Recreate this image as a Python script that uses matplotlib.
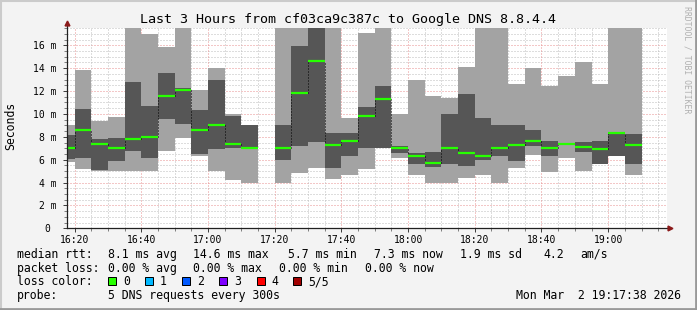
import numpy as np
import matplotlib
matplotlib.use("Agg")
import matplotlib.pyplot as plt
from matplotlib.patches import Rectangle
from matplotlib.lines import Line2D

# step start times (5 min steps), rtt in ms for the 5 sorted requests
steps = ["16:15", "16:20", "16:25", "16:30", "16:35", "16:40", "16:45", "16:50", "16:55",
         "17:00", "17:05", "17:10", "17:15", "17:20", "17:25", "17:30", "17:35", "17:40",
         "17:45", "17:50", "17:55", "18:00", "18:05", "18:10", "18:15", "18:20", "18:25",
         "18:30", "18:35", "18:40", "18:45", "18:50", "18:55", "19:00", "19:05"]
# 18.0 = above the top of the graph (clipped)
ping_min = [5.82, 5.18, 5.00, 5.00, 5.00, 5.00, 6.78, 7.92, 6.34, 5.00, 4.21, 3.98, np.nan,
            3.98, 4.85, 5.23, 4.33, 4.65, 5.18, 7.00, 6.17, 4.65, 3.98, 3.98, 4.41, 4.65,
            3.98, 5.29, 6.43, 4.94, 6.17, 5.00, 5.64, 6.34, 4.65]
ping_lo = [6.10, 6.11, 5.08, 5.91, 6.75, 6.17, 9.56, 9.12, 6.49, 6.96, 7.05, 6.98, np.nan,
           6.00, 7.22, 7.57, 5.29, 6.34, 7.05, 7.02, 6.60, 5.61, 5.38, 5.61, 5.47, 6.00,
           6.34, 5.91, 7.22, 6.34, 7.30, 6.70, 5.64, 6.34, 5.64]
ping_med = [7.05, 8.60, 7.40, 7.05, 7.81, 7.98, 11.60, 12.05, 8.60, 9.00, 7.40, 7.05, np.nan,
            7.05, 11.87, 14.60, 7.31, 7.66, 9.85, 11.26, 7.05, 6.34, 5.73, 7.05, 6.60, 6.34,
            7.05, 7.31, 7.66, 7.05, 7.40, 7.13, 6.96, 8.33, 7.31]
ping_hi = [8.15, 10.44, 7.81, 7.92, 12.80, 10.70, 13.60, 12.28, 10.35, 12.98, 9.85, 9.03, np.nan,
           9.03, 15.90, 18.0, 8.36, 8.36, 10.61, 12.46, 7.22, 6.60, 6.70, 10.00, 11.78, 9.65,
           9.03, 9.03, 8.57, 7.63, 7.50, 7.57, 7.63, 8.45, 8.25]
ping_max = [9.03, 13.80, 9.39, 9.74, 18.0, 17.00, 15.88, 18.0, 12.10, 13.98, 10.00, 9.05, np.nan,
            18.0, 18.0, 18.0, 18.0, 9.68, 17.10, 18.0, 10.00, 12.98, 11.58, 11.43, 14.12, 18.0,
            18.0, 12.63, 14.03, 12.46, 13.33, 14.50, 12.63, 18.0, 18.0]

xtick_labels = ["16:20", "16:40", "17:00", "17:20", "17:40", "18:00", "18:20", "18:40", "19:00"]
ytick_vals = [0, 2, 4, 6, 8, 10, 12, 14, 16]
ytick_labels = ["0 ", "2 m", "4 m", "6 m", "8 m", "10 m", "12 m", "14 m", "16 m"]

loss_labels = ["0", "1", "2", "3", "4", "5/5"]
loss_colors = ["#26ff00", "#00b8ff", "#0059ff", "#7e00ff", "#ff0000", "#a10000"]

W, H = 697, 310
MONO = "DejaVu Sans Mono"
DOTS = (0, (1, 2))


def to_min(s):
    h, m = s.split(":")
    return (int(h) - 16) * 60 + int(m)


def fx(x):
    return x / W


def fy(y):
    return 1 - y / H


x = np.array([to_min(s) for s in steps], dtype=float)
pmin = np.array(ping_min)
plo = np.array(ping_lo)
pmed = np.array(ping_med)
phi = np.array(ping_hi)
pmax = np.array(ping_max)
ok = ~np.isnan(pmed)

fig = plt.figure(figsize=(W / 100, H / 100), dpi=100)
fig.patch.set_facecolor("#f3f3f3")

ax = fig.add_axes([fx(66.7), fy(228.3), fx(667) - fx(66.7), fy(28) - fy(228.3)])
ax.set_facecolor("white")
ax.set_xlim(17 + 38 / 60, 197 + 38 / 60)
ax.set_ylim(0, (228.3 - 28) / 11.44)

# grid behind the smoke
grid_minor = "#bdbdbd"
grid_major = "#e89090"
for v in np.arange(0.5, 17.6, 0.5):
    major = abs(v / 2 - round(v / 2)) < 1e-6
    ax.axhline(v, color=grid_major if major else grid_minor, lw=0.72,
               ls=DOTS, zorder=0.5)
for t in range(20, 197, 5):
    ax.axvline(t, color=grid_major if t % 20 == 0 else grid_minor, lw=0.72,
               ls=DOTS, zorder=0.5)

# smoke
ax.bar(x[ok], (pmax - pmin)[ok], bottom=pmin[ok], width=5, align="edge",
       color="#a3a3a3", linewidth=0, zorder=1)
ax.bar(x[ok], (phi - plo)[ok], bottom=plo[ok], width=5, align="edge",
       color="#565656", linewidth=0, zorder=1.1)

# median connectors and median line
for i in range(1, len(x)):
    if ok[i] and ok[i - 1]:
        ax.vlines(x[i], min(pmed[i], pmed[i - 1]), max(pmed[i], pmed[i - 1]),
                  color="black", lw=0.72, linestyles=DOTS, zorder=2)
ax.hlines(pmed[ok], x[ok], x[ok] + 5, color=loss_colors[0], lw=1.6, zorder=3)

# axes and ticks
for s in ax.spines.values():
    s.set_visible(False)
ax.set_xticks([to_min(s) for s in xtick_labels])
ax.set_xticklabels(xtick_labels, fontsize=7, family=MONO)
ax.set_xticks(np.arange(20, 197, 5), minor=True)
ax.set_yticks(ytick_vals)
ax.set_yticklabels(ytick_labels, fontsize=7, family=MONO)
ax.set_yticks(np.arange(0, 17.6, 0.5), minor=True)
ax.tick_params(which="major", length=3, width=0.72, color="#404040")
ax.tick_params(axis="y", which="major", pad=4)
ax.tick_params(axis="x", which="major", pad=1.5)
ax.tick_params(which="minor", length=2, width=0.72, color="#808080")

ax.plot([0, 0], [0, 1 + 5 / 200], transform=ax.transAxes, color="#202020",
        lw=0.9, clip_on=False, zorder=5)
ax.plot([0, 1 + 3 / 600], [0, 0], transform=ax.transAxes, color="#202020",
        lw=0.9, clip_on=False, zorder=5)
ax.plot([0], [1 + 5 / 200], marker="^", ms=3.5, color="#8b1a1a",
        transform=ax.transAxes, clip_on=False, zorder=6)
ax.plot([1 + 3 / 600], [0], marker=">", ms=3.5, color="#8b1a1a",
        transform=ax.transAxes, clip_on=False, zorder=6)

# title, labels
fig.text(0.5, fy(19), "Last 3 Hours from cf03ca9c387c to Google DNS 8.8.4.4",
         ha="center", va="center", fontsize=9.6, family=MONO)
fig.text(fx(10.5), fy(126), "Seconds", rotation=90, ha="center", va="center",
         fontsize=8.3, family=MONO)
fig.text(fx(686.7), fy(60), "RRDTOOL / TOBI OETIKER", rotation=270, ha="center",
         va="center", fontsize=5.9, family=MONO, color="#b0b0b0")

# legend
fs = 8.3
rows = [
    (257.7, [("median rtt:", 16.7), ("8.1 ms avg", 107.6), ("14.6 ms max", 193.3),
             ("5.7 ms min", 288), ("7.3 ms now", 374), ("1.9 ms sd", 460),
             ("4.2", 543), ("am/s", 580)]),
    (271.7, [("packet loss:", 16.7), ("0.00 % avg", 107.6), ("0.00 % max", 193.3),
             ("0.00 % min", 279), ("0.00 % now", 365)]),
    (285.3, [("loss color:", 16.7)]),
    (299.3, [("probe:", 16.7), ("5 DNS requests every 300s", 107.6)]),
]
for yb, items in rows:
    for txt, xp in items:
        fig.text(fx(xp), fy(yb), txt, ha="left", va="baseline", fontsize=fs, family=MONO)
fig.text(fx(681), fy(299.3), "Mon Mar  2 19:17:38 2026", ha="right", va="baseline",
         fontsize=fs, family=MONO)

box_x = [108.3, 145, 181.7, 219.3, 256.7, 293.3]
for bx, lab, col in zip(box_x, loss_labels, loss_colors):
    fig.add_artist(Rectangle((fx(bx), fy(285.3)), 8 / W, 8 / H, transform=fig.transFigure,
                             facecolor=col, edgecolor="black", lw=0.72))
    fig.text(fx(bx + 15), fy(285.3), lab, ha="left", va="baseline", fontsize=fs, family=MONO)

# 3d frame
fig.add_artist(Line2D([0, 1], [fy(0.5), fy(0.5)], transform=fig.transFigure, color="#cbcbcb", lw=1.5))
fig.add_artist(Line2D([fx(0.5), fx(0.5)], [0, 1], transform=fig.transFigure, color="#cbcbcb", lw=1.5))
fig.add_artist(Line2D([0, 1], [fy(308.8), fy(308.8)], transform=fig.transFigure, color="#999999", lw=2))
fig.add_artist(Line2D([fx(695.8), fx(695.8)], [0, 1], transform=fig.transFigure, color="#999999", lw=2))

fig.savefig("out.png", dpi=100, facecolor=fig.get_facecolor())
